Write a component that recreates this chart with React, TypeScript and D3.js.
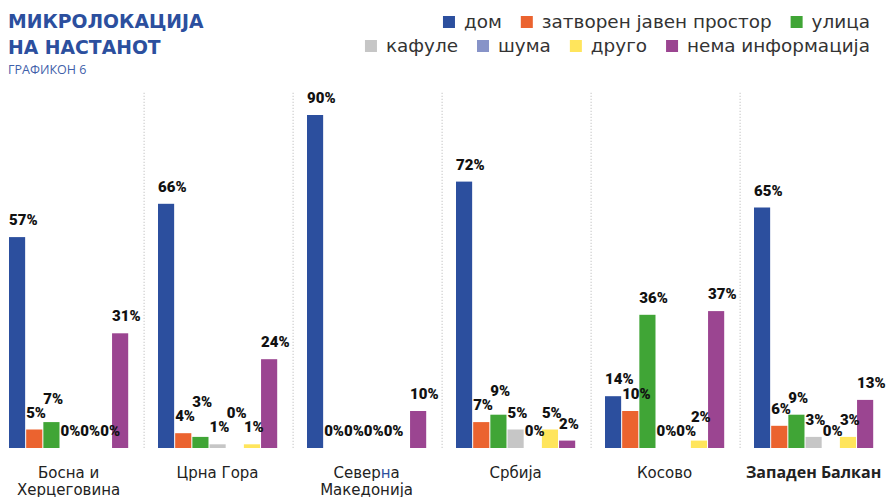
import React from "react";
import * as d3 from "d3";

// categories (legend order) and their series, one value per country
const categories = [
  "дом",
  "затворен јавен простор",
  "улица",
  "кафуле",
  "шума",
  "друго",
  "нема информација",
];
const countries = [
  "Босна и Херцеговина",
  "Црна Гора",
  "Северна Македонија",
  "Србија",
  "Косово",
  "Западен Балкан",
];
const countryLines = [
  ["Босна и", "Херцеговина"],
  ["Црна Гора"],
  ["Северна", "Македонија"],
  ["Србија"],
  ["Косово"],
  ["Западен Балкан"],
];

const dom = [57, 66, 90, 72, 14, 65];
const zatvoren = [5, 4, 0, 7, 10, 6];
const ulica = [7, 3, 0, 9, 36, 9];
const kafule = [0, 1, 0, 5, 0, 3];
const shuma = [0, 0, 0, 0, 0, 0];
const drugo = [0, 1, null, 5, 2, 3];
const nema = [31, 24, 10, 2, 37, 13];
const series = [dom, zatvoren, ulica, kafule, shuma, drugo, nema];

const legendRows = [categories.slice(0, 3), categories.slice(3)];

const W = 887;
const H = 497;
const BLUE = "#2c4f9e";

const color = d3
  .scaleOrdinal<string, string>()
  .domain(categories)
  .range(["#2c4f9e", "#eb632f", "#40a536", "#c6c6c6", "#8793c8", "#ffe55c", "#9b4591"]);

const LABEL_FONT = "900 15px Roboto";
const LEGEND_FONT = "18.4px 'DejaVu Sans'";

let ctx: CanvasRenderingContext2D | null = null;
const measure = (text: string, font: string) => {
  if (!ctx) ctx = document.createElement("canvas").getContext("2d");
  ctx!.font = font;
  return ctx!.measureText(text).width;
};

const App = () => {
  const x = d3
    .scaleBand<string>()
    .domain(countries)
    .range([9, 873.2])
    .paddingInner(0.2)
    .paddingOuter(0);
  const xi = d3
    .scaleBand<string>()
    .domain(categories)
    .range([0, x.bandwidth()])
    .paddingInner(0.06);
  const y = d3.scaleLinear().domain([0, 100]).range([448, 78]);
  const gap = x.step() - x.bandwidth();

  // value labels, left aligned on their bar, nudged to avoid overlaps
  const labels: { x: number; b: number; t: string; k: string }[] = [];
  countries.forEach((c, ci) => {
    const placed: { x: number; b: number; w: number }[] = [];
    categories.forEach((cat, k) => {
      const v = series[k][ci];
      if (v == null) return;
      const t = `${v}%`;
      const w = measure(t, LABEL_FONT);
      let lx = (x(c) ?? 0) + (xi(cat) ?? 0);
      let b = y(v) - 12;
      const h = 11;
      let moved = true;
      while (moved) {
        moved = false;
        for (const p of placed) {
          const hOver = lx < p.x + p.w - 0.5 && lx + w > p.x + 0.5;
          const vOver = Math.min(b, p.b) - Math.max(b - h, p.b - h) > 1;
          if (hOver && vOver) {
            if (Math.abs(b - p.b) < 2) lx = p.x + p.w;
            else b = p.b - h - 3;
            moved = true;
          }
        }
      }
      placed.push({ x: lx, b, w });
      labels.push({ x: lx, b, t, k: `${c}-${cat}` });
    });
  });

  // legend, each row right aligned
  const legendItems: { x: number; y: number; name: string }[] = [];
  legendRows.forEach((row, ri) => {
    let right = 870;
    const yRow = ri === 0 ? 16 : 40;
    [...row].reverse().forEach((name) => {
      const tw = measure(name, LEGEND_FONT);
      const sx = right - tw - 9 - 12;
      legendItems.push({ x: sx, y: yRow, name });
      right = sx - 19;
    });
  });

  const last = countries.length - 1;

  return (
    <svg
      width={W}
      height={H}
      style={{ position: "absolute", left: 0, top: 0, background: "#fff" }}
    >
      <g fontFamily="'DejaVu Sans', sans-serif" fontWeight="bold" fill={BLUE}>
        <text x={8} y={28} fontSize={18.8}>
          МИКРОЛОКАЦИЈА
        </text>
        <text x={8} y={54} fontSize={18.8}>
          НА НАСТАНОТ
        </text>
      </g>
      <text
        x={8}
        y={74}
        fontSize={12.5}
        fontFamily="'Open Sans', sans-serif"
        fill="#3f5faa"
      >
        ГРАФИКОН 6
      </text>

      <g fontFamily="'DejaVu Sans', sans-serif" fontSize={18.4} fill="#333">
        {legendItems.map((d) => (
          <g key={d.name}>
            <rect x={d.x} y={d.y} width={12} height={12} fill={color(d.name)} />
            <text x={d.x + 21} y={d.y + 11.5}>
              {d.name}
            </text>
          </g>
        ))}
      </g>

      <g stroke="#b5b5b5" strokeDasharray="1 2">
        {countries.slice(0, -1).map((c) => {
          const dx = (x(c) ?? 0) + x.bandwidth() + gap / 2 + 1;
          return <line key={c} x1={dx} x2={dx} y1={y(96)} y2={y(0)} />;
        })}
      </g>

      {countries.map((c, ci) => (
        <g key={c} transform={`translate(${x(c)},0)`}>
          {categories.map((cat, k) => {
            const v = series[k][ci];
            if (v == null || v === 0) return null;
            return (
              <rect
                key={cat}
                x={xi(cat)}
                y={y(v)}
                width={xi.bandwidth()}
                height={y(0) - y(v)}
                fill={color(cat)}
              />
            );
          })}
        </g>
      ))}

      <g fontFamily="Roboto, sans-serif" fontWeight={900} fontSize={15} fill="#111">
        {labels.map((l) => (
          <text key={l.k} x={l.x} y={l.b}>
            {l.t}
          </text>
        ))}
      </g>

      <g fontFamily="'DejaVu Sans', sans-serif" fontSize={15} fill="#222" textAnchor="middle">
        {countries.map((c, ci) => (
          <text
            key={c}
            x={(x(c) ?? 0) + x.bandwidth() / 2}
            y={478}
            fontWeight={ci === last ? "bold" : "normal"}
            fontFamily={ci === last ? "'Open Sans', sans-serif" : undefined}
            fontSize={ci === last ? 16 : undefined}
          >
            {countryLines[ci].map((line, li) => (
              <tspan key={li} x={(x(c) ?? 0) + x.bandwidth() / 2} dy={li === 0 ? 0 : 17}>
                {line === "Северна" ? (
                  <>
                    Север<tspan fill={BLUE}>н</tspan>а
                  </>
                ) : (
                  line
                )}
              </tspan>
            ))}
          </text>
        ))}
      </g>
    </svg>
  );
};

export default App;
